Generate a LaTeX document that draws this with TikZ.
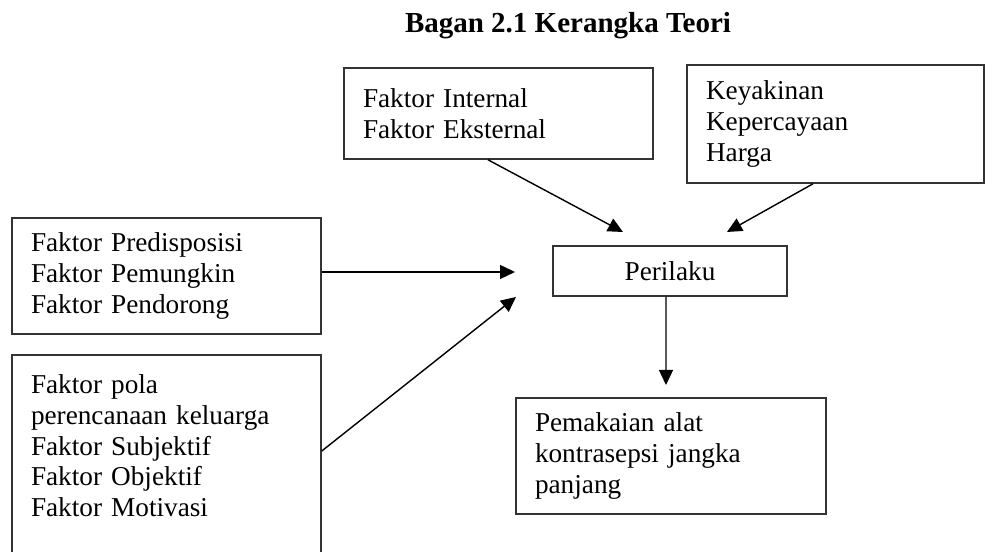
\documentclass[tikz,border=0pt]{standalone}
\usepackage{fontspec}
\setmainfont{Liberation Serif}
\usetikzlibrary{calc,arrows.meta}
\tikzset{
	kotak/.style={draw=black!80,line width=0.9pt,inner xsep=0.38cm,align=left,font=\fontsize{15.5}{17.5}\selectfont},
	panah/.style={-{Triangle[length=0.3cm,width=0.28cm]},line width=0.8pt}
}

\begin{document}
\begin{tikzpicture}
		\useasboundingbox (0,0) rectangle (19.76,11.04);
		\node[anchor=base] (judul) at (11.36,10.38) {\fontsize{16.5}{19}\selectfont\bfseries Bagan 2.1 Kerangka Teori};
		% kotak faktor
		\node (internal) at (9.97,8.77) [kotak,text width=5.42cm,minimum height=1.82cm] {Faktor Internal\\Faktor Eksternal};
		\node (keyakinan) at (16.71,8.56) [kotak,text width=5.18cm,minimum height=2.36cm] {Keyakinan\\Kepercayaan\\Harga};
		\node (predis) at (3.33,5.52) [kotak,text width=5.42cm,minimum height=2.32cm] {Faktor Predisposisi\\Faktor Pemungkin\\Faktor Pendorong};
		\node (pola) at (3.33,3.96) [kotak,anchor=north,inner ysep=0.4cm,text width=5.42cm] {Faktor pola\\perencanaan keluarga\\Faktor Subjektif\\Faktor Objektif\\Faktor Motivasi\\ \mbox{}};
		\node (perilaku) at (13.40,5.62) [kotak,minimum width=4.68cm,minimum height=1.0cm,align=center] {Perilaku};
		\node (pemakaian) at (13.42,1.92) [kotak,text width=5.44cm,minimum height=2.32cm] {Pemakaian alat\\kontrasepsi jangka\\panjang};
		% ujung panah
		\coordinate (ujungA) at (12.46,6.40);
		\coordinate (ujungB) at (14.54,6.40);
		\coordinate (ujungC) at (10.30,5.60);
		\coordinate (ujungD) at (10.32,5.10);
		\coordinate (ujungE) at (13.32,3.34);
		\draw[panah] ($(internal.south)+(-0.21,0)$) -- (ujungA);
		\draw[panah] ($(keyakinan.south)+(-0.45,0)$) -- (ujungB);
		\draw[panah] ($(predis.east)+(0,0.08)$) -- (ujungC);
		\draw[panah] ($(pola.north east)-(0,1.94)$) -- (ujungD);
		\draw[panah] ($(perilaku.south)+(-0.08,0)$) -- (ujungE);
	\end{tikzpicture}
\end{document}
